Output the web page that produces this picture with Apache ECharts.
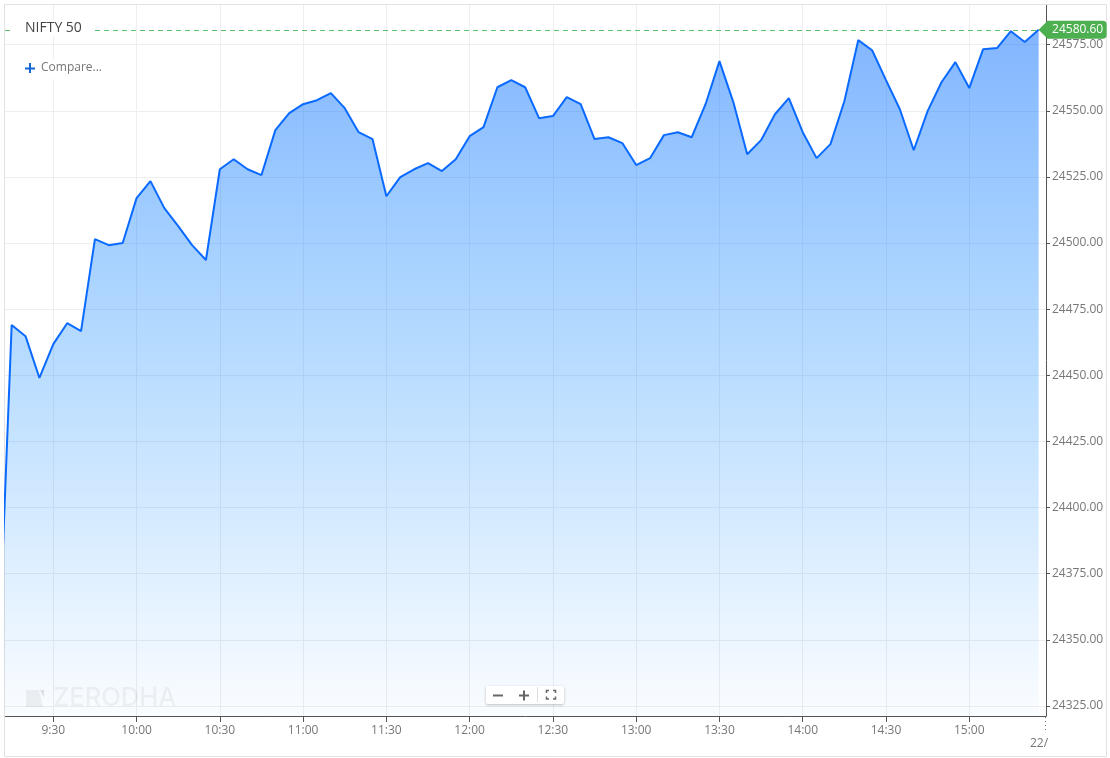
<!DOCTYPE html>
<html><head><meta charset="utf-8">
<style>html,body{margin:0;padding:0;background:#fff}#c{width:1110px;height:758px}</style>
<script src="https://cdn.jsdelivr.net/npm/echarts@6/dist/echarts.min.js"></script>
</head><body><div id="c"></div>
<script>
const seriesName = 'NIFTY 50';
const startMinute = 550; // 9:10, one step before the first visible point
const stepMinutes = 5;
const niftyValues = [24335,24469,24464.8,24449,24461.8,24469.7,24466.7,24501.5,24499.2,24500,24517,24523.4,24513.2,24506.4,24499.2,24493.6,
24527.9,24531.7,24527.9,24525.7,24542.7,24549.1,24552.5,24554,24556.7,24551,24541.9,24539.3,24517.7,24524.9,24527.9,24530.2,24527.2,24531.7,
24540.4,24543.8,24558.9,24561.6,24558.9,24547.2,24548,24555.2,24552.5,24539.3,24540,24537.8,24529.5,24532.1,24540.8,24541.9,24540,24552.5,
24568.8,24553.3,24533.6,24538.9,24548.7,24554.8,24541.9,24532.1,24537.4,24553.6,24576.7,24572.9,24561.6,24550.6,24535.1,24549.9,24560.8,
24568.4,24558.6,24573.3,24573.7,24580.1,24576,24580.6];
const lastPrice = 24580.60;
const xTicks = [570,600,630,660,690,720,750,780,810,840,870,900];
const yTicks = [24325,24350,24375,24400,24425,24450,24475,24500,24525,24550,24575];
const xMin = 552.6, xMax = 927.65;
const yMin = 24321.2, yMax = 24590;
const points = niftyValues.map((v,i)=>[startMinute+i*stepMinutes, v]);
const lastMinute = points[points.length-1][0];
const fmtTime = m => Math.floor(m/60)+':'+String(m%60).padStart(2,'0');
const font = '"Open Sans", "Noto Sans", sans-serif';
const grey = '#777';
const chart = echarts.init(document.getElementById('c'),null,{renderer:'canvas'});
chart.setOption({
  animation:false,
  backgroundColor:'#fff',
  grid:{left:5,right:64,top:5,bottom:42,containLabel:false},
  xAxis:{type:'value',min:xMin,max:xMax,
    axisLine:{show:true,onZero:false,lineStyle:{color:'#555',width:1}},
    axisTick:{show:true,length:6,lineStyle:{color:'#555'},customValues:xTicks},
    axisLabel:{color:grey,fontFamily:font,fontSize:12,margin:9,customValues:xTicks,formatter:v=>fmtTime(v)},
    splitLine:{show:true,lineStyle:{color:'#eeeeee',width:1}},minorTick:{show:false}},
  yAxis:{type:'value',position:'right',min:yMin,max:yMax,
    axisLine:{show:true,lineStyle:{color:'#555',width:1}},
    axisTick:{show:true,length:4,lineStyle:{color:'#555'},customValues:yTicks},
    axisLabel:{color:grey,fontFamily:font,fontSize:12,margin:6,padding:[4,0,0,0],customValues:yTicks,formatter:v=>v.toFixed(2)},
    splitLine:{show:true,lineStyle:{color:'#eeeeee',width:1}}},
  series:[{name:seriesName,type:'line',data:points,showSymbol:false,smooth:false,clip:true,
    lineStyle:{color:'#0a6aff',width:2},
    areaStyle:{origin:'start',opacity:1,color:new echarts.graphic.LinearGradient(0,30,0,716,[
      {offset:0,color:'rgba(0,105,255,0.49)'},{offset:0.5,color:'rgba(0,130,255,0.27)'},{offset:1,color:'rgba(0,130,255,0.02)'}],true)},
    markLine:{silent:true,symbol:'none',animation:false,label:{show:false},
      lineStyle:{color:'#5cc06a',type:[5,4],width:1},
      data:[[{coord:[xMin,lastPrice]},{coord:[lastMinute,lastPrice]}]]},
    markPoint:{silent:true,animation:false,z:10,
      symbol:'path://M0 9 L9 0 L64 0 Q68 0 68 4 L68 14 Q68 18 64 18 L9 18 Z',
      symbolKeepAspect:false,symbolSize:[68,18],symbolOffset:[34,0],
      itemStyle:{color:'#4caf50'},
      label:{show:true,position:'inside',offset:[5,0],color:'#fff',fontFamily:font,fontSize:12,formatter:()=>lastPrice.toFixed(2)},
      data:[{coord:[lastMinute,lastPrice]}]}
  }],
  graphic:[
    {type:'rect',z:1,silent:true,shape:{x:4.5,y:4.5,width:1102,height:752},style:{fill:'none',stroke:'#e2e2e2',lineWidth:1}},
    {type:'text',z:20,left:13,top:20,style:{text:seriesName,font:'14px '+font,fill:'#444',backgroundColor:'#fff',padding:[1,12,1,12]}},
    {type:'rect',z:19,silent:true,shape:{x:24,y:59,width:80,height:20},style:{fill:'#fff'}},
    {type:'line',z:20,silent:true,shape:{x1:25,y1:68.5,x2:35,y2:68.5},style:{stroke:'#1366d6',lineWidth:2}},
    {type:'line',z:20,silent:true,shape:{x1:30,y1:63,x2:30,y2:73},style:{stroke:'#1366d6',lineWidth:2}},
    {type:'text',z:20,left:41,top:62,style:{text:'Compare...',font:'12px '+font,fill:grey}},
    {type:'polygon',z:3,silent:true,shape:{points:[[26,690],[39,690],[43,707],[26,707]]},style:{fill:'rgba(0,0,0,0.055)'}},
    {type:'polygon',z:3,silent:true,shape:{points:[[40,690],[44,690],[44,698]]},style:{fill:'rgba(0,0,0,0.1)'}},
    {type:'text',z:3,left:53,top:685,style:{text:'ZERODHA',font:'500 25.5px Inter, '+font,fill:'rgba(0,0,0,0.05)'}},
    {type:'rect',z:20,silent:true,shape:{x:486,y:686,width:78,height:18,r:2},style:{fill:'#fff',shadowBlur:3,shadowColor:'rgba(0,0,0,0.25)',shadowOffsetY:1}},
    {type:'line',z:21,silent:true,shape:{x1:493,y1:695.5,x2:503,y2:695.5},style:{stroke:'#666',lineWidth:2}},
    {type:'line',z:21,silent:true,shape:{x1:519,y1:695.5,x2:529,y2:695.5},style:{stroke:'#666',lineWidth:2}},
    {type:'line',z:21,silent:true,shape:{x1:524,y1:690.5,x2:524,y2:700.5},style:{stroke:'#666',lineWidth:2}},
    {type:'line',z:21,silent:true,shape:{x1:537.5,y1:687,x2:537.5,y2:702},style:{stroke:'#ddd'}},
    {type:'polyline',z:21,silent:true,shape:{points:[[546.5,693],[546.5,690.5],[549,690.5]]},style:{stroke:'#666',lineWidth:1.5,fill:'none'}},
    {type:'polyline',z:21,silent:true,shape:{points:[[553,690.5],[555.5,690.5],[555.5,693]]},style:{stroke:'#666',lineWidth:1.5,fill:'none'}},
    {type:'polyline',z:21,silent:true,shape:{points:[[546.5,696.5],[546.5,699],[549,699]]},style:{stroke:'#666',lineWidth:1.5,fill:'none'}},
    {type:'polyline',z:21,silent:true,shape:{points:[[553,699],[555.5,699],[555.5,696.5]]},style:{stroke:'#666',lineWidth:1.5,fill:'none'}},
    {type:'line',z:5,silent:true,shape:{x1:1045.5,y1:717,x2:1045.5,y2:733},style:{stroke:'#777',lineDash:[1,3]}},
    {type:'text',z:5,left:1030,top:738,style:{text:'22/',font:'12px '+font,fill:grey}}
  ]
});
</script></body></html>
